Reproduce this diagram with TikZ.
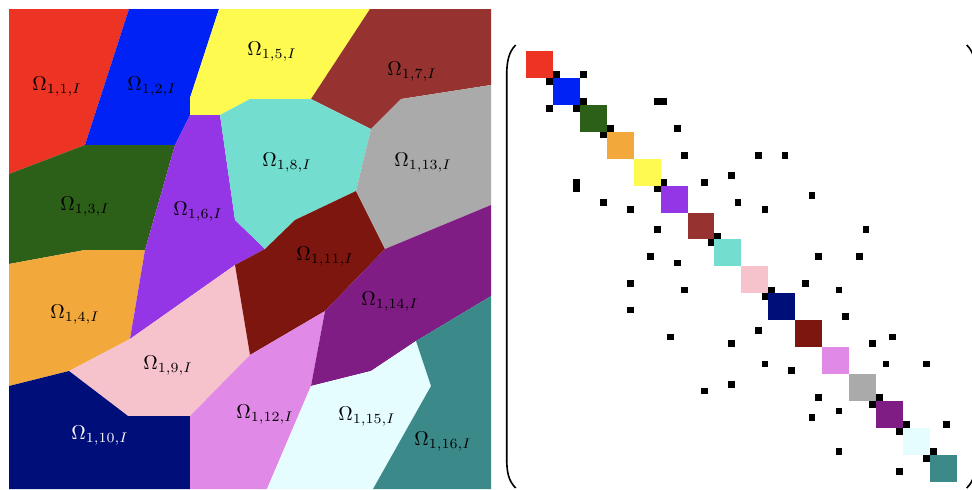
\documentclass[tikz,border=0pt]{standalone}
\definecolor{om1}{RGB}{237,51,36}
\definecolor{om2}{RGB}{0,34,245}
\definecolor{om3}{RGB}{44,95,24}
\definecolor{om4}{RGB}{243,168,60}
\definecolor{om5}{RGB}{255,250,80}
\definecolor{om6}{RGB}{148,53,230}
\definecolor{om7}{RGB}{150,51,48}
\definecolor{om8}{RGB}{115,222,208}
\definecolor{om9}{RGB}{246,194,204}
\definecolor{om10}{RGB}{0,14,122}
\definecolor{om11}{RGB}{125,22,14}
\definecolor{om12}{RGB}{224,137,230}
\definecolor{om13}{RGB}{170,170,170}
\definecolor{om14}{RGB}{127,29,132}
\definecolor{om15}{RGB}{230,253,255}
\definecolor{om16}{RGB}{60,137,137}
\newcommand{\mcell}{6.73}
\begin{document}
\begin{tikzpicture}[x=0.5pt, y=-0.5pt,
    region/.style={draw=none},
    omlabel/.style={inner sep=0pt, font=\normalsize},
    paren/.style={line width=0.8pt, black},
]
\useasboundingbox (0,0) rectangle (972,489);

% partition of the square
\fill[om1] (9,9) -- (129,9) -- (85,145) -- (9,174) -- cycle;
\fill[om2] (129,9) -- (219,9) -- (190,98) -- (190,115) -- (175,145) -- (85,145) -- cycle;
\fill[om3] (9,174) -- (85,145) -- (175,145) -- (145,250) -- (85,250) -- (9,264) -- cycle;
\fill[om4] (9,264) -- (85,250) -- (145,250) -- (130,339) -- (69,371) -- (9,386) -- cycle;
\fill[om5] (219,9) -- (370,9) -- (311,99) -- (250,99) -- (220,115) -- (190,115) -- (190,98) -- cycle;
\fill[om6] (190,115) -- (220,115) -- (235,220) -- (265,249) -- (235,265) -- (130,339) -- (145,250) -- (175,145) -- cycle;
\fill[om7] (370,9) -- (491,9) -- (491,85) -- (401,99) -- (371,129) -- (311,99) -- cycle;
\fill[om8] (220,115) -- (250,99) -- (311,99) -- (371,129) -- (356,191) -- (295,220) -- (265,249) -- (235,220) -- cycle;
\fill[om9] (130,339) -- (235,265) -- (250,355) -- (190,416) -- (128,416) -- (69,371) -- cycle;
\fill[om10] (9,386) -- (69,371) -- (128,416) -- (190,416) -- (190,489) -- (9,489) -- cycle;
\fill[om11] (265,249) -- (295,220) -- (356,191) -- (385,249) -- (325,311) -- (250,355) -- (235,265) -- cycle;
\fill[om12] (250,355) -- (325,311) -- (311,386) -- (267,489) -- (190,489) -- (190,416) -- cycle;
\fill[om13] (371,129) -- (401,99) -- (491,85) -- (491,205) -- (385,249) -- (356,191) -- cycle;
\fill[om14] (385,249) -- (491,205) -- (491,296) -- (416,341) -- (371,371) -- (311,386) -- (325,311) -- cycle;
\fill[om15] (311,386) -- (371,371) -- (416,341) -- (431,386) -- (373,489) -- (267,489) -- cycle;
\fill[om16] (416,341) -- (491,296) -- (491,489) -- (373,489) -- (431,386) -- cycle;

\node[omlabel] (o1) at (57,87) {$\Omega_{1,1,I}$};
\node[omlabel] (o2) at (152,87) {$\Omega_{1,2,I}$};
\node[omlabel] (o3) at (85,207) {$\Omega_{1,3,I}$};
\node[omlabel] (o4) at (75,315) {$\Omega_{1,4,I}$};
\node[omlabel] (o5) at (272,52) {$\Omega_{1,5,I}$};
\node[omlabel] (o6) at (198,212) {$\Omega_{1,6,I}$};
\node[omlabel] (o7) at (412,72) {$\Omega_{1,7,I}$};
\node[omlabel] (o8) at (287,163) {$\Omega_{1,8,I}$};
\node[omlabel] (o9) at (168,366) {$\Omega_{1,9,I}$};
\node[omlabel, text=white] (o10) at (100,436) {$\Omega_{1,10,I}$};
\node[omlabel] (o11) at (325,257) {$\Omega_{1,11,I}$};
\node[omlabel] (o12) at (265,415) {$\Omega_{1,12,I}$};
\node[omlabel] (o13) at (423,163) {$\Omega_{1,13,I}$};
\node[omlabel] (o14) at (390,302) {$\Omega_{1,14,I}$};
\node[omlabel] (o15) at (367,417) {$\Omega_{1,15,I}$};
\node[omlabel] (o16) at (443,442) {$\Omega_{1,16,I}$};

% matrix
\foreach \k/\col in {0/om1,1/om2,2/om3,3/om4,4/om5,5/om6,6/om7,7/om8,
                     8/om9,9/om10,10/om11,11/om12,12/om13,13/om14,14/om15,15/om16}
  \fill[\col] ({526+4*\k*\mcell},{51+4*\k*\mcell}) rectangle +({4*\mcell},{4*\mcell});

\foreach \r/\c in {3/4,3/8,7/8,7/19,7/20,11/12,11/22,15/23,15/34,15/38,18/30,
                   19/20,19/26,21/42,22/31,23/35,26/50,27/28,30/43,30/49,34/41,
                   35/36,35/46,39/47,42/54,43/51,46/53,46/59,51/52,55/56,55/62,59/60}
{
  \fill[black] ({526+\c*\mcell},{51+\r*\mcell}) rectangle +(\mcell,\mcell);
  \fill[black] ({526+\r*\mcell},{51+\c*\mcell}) rectangle +(\mcell,\mcell);
}

\draw[paren] (515.7,45) .. controls (508.5,52) and (506.7,62) .. (506.7,76)
  -- (506.7,458) .. controls (506.7,472) and (508.5,481) .. (515.7,488);
\draw[paren] (966.7,45) .. controls (973.9,52) and (975.7,62) .. (975.7,76)
  -- (975.7,458) .. controls (975.7,472) and (973.9,481) .. (966.7,488);
\end{tikzpicture}
\end{document}
